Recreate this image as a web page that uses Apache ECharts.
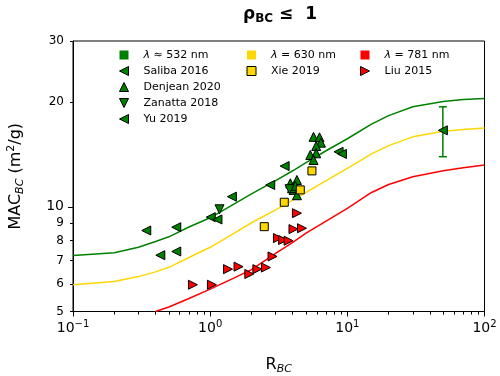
<!DOCTYPE html>
<html>
<head>
<meta charset="utf-8">
<script src="https://cdn.jsdelivr.net/npm/echarts@6/dist/echarts.min.js"></script>
<style>
html, body { margin: 0; padding: 0; background: #fff; }
#chart { width: 500px; height: 376px; }
</style>
</head>
<body>
<div id="chart"></div>
<script>
// model curves
var lineX   = [0.1, 0.2, 0.3, 0.4, 0.5, 0.7, 1, 1.5, 2, 3, 4, 5, 7, 10, 15, 20, 30, 50, 70, 100];
var green   = [7.25, 7.38, 7.65, 7.95, 8.2, 8.75, 9.3, 10.2, 10.9, 11.9, 12.7, 13.4, 14.5, 15.7, 17.3, 18.3, 19.4, 20.1, 20.35, 20.5];
var yellow  = [5.97, 6.1, 6.3, 6.5, 6.7, 7.15, 7.65, 8.4, 9.0, 9.8, 10.45, 11.0, 11.9, 12.9, 14.2, 15.0, 15.9, 16.5, 16.7, 16.85];
var red     = [null, null, null, 5.0, 5.15, 5.45, 5.8, 6.25, 6.6, 7.35, 7.9, 8.4, 9.1, 9.9, 11.0, 11.6, 12.2, 12.7, 12.95, 13.2];

// measurements
var salibaX = [0.342, 0.566, 0.433, 0.566, 1.01, 1.13, 1.44, 2.74, 3.49, 8.63, 9.13];
var salibaY = [8.55, 8.74, 7.26, 7.44, 9.34, 9.2, 10.7, 11.56, 13.1, 14.4, 14.2];
var denjeanX = [5.67, 6.27, 6.42, 5.93, 5.37, 5.93, 5.67, 3.84, 4.29, 4.05, 4.29, 3.95, 4.17];
var denjeanY = [15.9, 15.85, 15.3, 14.96, 14.1, 14.26, 13.64, 11.69, 11.95, 11.19, 10.8, 11.32, 11.5];
var zanattaX = [1.17, 3.79];
var zanattaY = [9.84, 11.24];
var yuX = [49.7];
var yuY = [16.6];
var yuLow = [13.94];
var yuHigh = [19.4];
var xieX = [2.48, 3.47, 4.54, 5.52];
var xieY = [8.77, 10.31, 11.19, 12.69];
var liuX = [0.749, 1.03, 1.35, 1.61, 1.93, 2.21, 2.55, 2.85, 3.12, 3.4, 3.73, 4.05, 4.67, 4.29];
var liuY = [5.97, 5.97, 6.62, 6.73, 6.41, 6.62, 6.69, 7.2, 8.13, 8.03, 7.99, 8.63, 8.68, 9.59];

var xMajor = [0.1, 1, 10, 100];
var xMinor = [0.2, 0.3, 0.4, 0.5, 0.6, 0.7, 0.8, 0.9, 2, 3, 4, 5, 6, 7, 8, 9, 20, 30, 40, 50, 60, 70, 80, 90];
var xExp = {'0.1': '−1', '1': '0', '10': '1', '100': '2'};
var yLabels = [5, 6, 7, 8, 9, 10, 20, 30];
var yMinor = [5, 6, 7, 8, 9, 20, 30];

var FONT = 'DejaVu Sans';
var GREEN = '#008000', GOLD = '#ffd700', RED = '#ff0000';
var SQ = 'path://M0,0H10V10H0Z';
var LEFT = 'path://M0,5L10,0L10,10Z';
var RIGHT = 'path://M10,5L0,0L0,10Z';
var UP = 'path://M5,0L10,10L0,10Z';
var DOWN = 'path://M0,0L10,0L5,10Z';

function pairs(xs, ys){
	var out = [];
	for(var i=0; i<xs.length; i++){
		if(ys[i] != null) out.push([xs[i], ys[i]]);
	}
	return out;
}

function lineSeries(name, ys, color){
	return {
		name: name, type: 'line', data: pairs(lineX, ys),
		showSymbol: false, symbol: 'none', smooth: false, z: 2,
		lineStyle: {color: color, width: 1.5}, itemStyle: {color: color}
	};
}

function scatterSeries(name, xs, ys, symbol, color, size){
	return {
		name: name, type: 'scatter', data: pairs(xs, ys),
		symbol: symbol, symbolSize: size, z: 4,
		itemStyle: {color: color, borderColor: '#000', borderWidth: 1, opacity: 1}
	};
}

function renderErr(params, api){
	var x = api.value(0);
	var top = api.coord([x, api.value(2)]);
	var bot = api.coord([x, api.value(1)]);
	var hw = 4;
	var st = {stroke: GREEN, lineWidth: 1.5};
	return {type: 'group', children: [
		{type: 'line', shape: {x1: top[0], y1: top[1], x2: bot[0], y2: bot[1]}, style: st},
		{type: 'line', shape: {x1: top[0]-hw, y1: top[1], x2: top[0]+hw, y2: top[1]}, style: st},
		{type: 'line', shape: {x1: bot[0]-hw, y1: bot[1], x2: bot[0]+hw, y2: bot[1]}, style: st}
	]};
}

var errData = [];
for(var i=0; i<yuX.length; i++) errData.push([yuX[i], yuLow[i], yuHigh[i]]);

var legendText = {
	'λ ≈ 532 nm': '{i|λ} ≈ 532 nm',
	'λ = 630 nm': '{i|λ} = 630 nm',
	'λ = 781 nm': '{i|λ} = 781 nm'
};

function legendBox(left, items){
	return {
		orient: 'vertical', left: left, top: 47, padding: 0,
		itemWidth: 29, itemHeight: 9, itemGap: 0, selectedMode: false,
		data: items,
		formatter: function(name){ return legendText[name] || name; },
		textStyle: {
			fontFamily: FONT, fontSize: 11, color: '#000', lineHeight: 16,
			rich: {i: {fontFamily: FONT, fontSize: 11, fontStyle: 'italic', color: '#000', lineHeight: 16}}
		}
	};
}

function mark(name, icon){
	return {name: name, icon: icon, itemStyle: {borderColor: '#000', borderWidth: 1}};
}
function patch(name){
	return {name: name, icon: SQ, itemStyle: {borderWidth: 0}};
}

var option = {
	animation: false,
	backgroundColor: '#fff',
	title: {
		text: '{r|ρ}{s|BC}{n| ≤  1}',
		left: 275, top: 0, textAlign: 'center',
		textStyle: {
			rich: {
				r: {fontFamily: FONT, fontSize: 17, fontWeight: 'bold', color: '#000', lineHeight: 20},
				s: {fontFamily: FONT, fontSize: 12, fontWeight: 'bold', color: '#000', lineHeight: 13, verticalAlign: 'bottom'},
				n: {fontFamily: FONT, fontSize: 17, fontWeight: 'bold', color: '#000', lineHeight: 20}
			}
		}
	},
	legend: [
		legendBox(119, [patch('λ ≈ 532 nm'), mark('Saliba 2016', LEFT), mark('Denjean 2020', UP), mark('Zanatta 2018', DOWN), mark('Yu 2019', LEFT)]),
		legendBox(246.5, [patch('λ = 630 nm'), mark('Xie 2019', SQ)]),
		legendBox(360, [patch('λ = 781 nm'), mark('Liu 2015', RIGHT)])
	],
	grid: {
		left: 73, top: 41, width: 411.5, height: 270.5, outerBoundsMode: 'none', containLabel: false,
		show: true, borderColor: '#000', borderWidth: 1, backgroundColor: 'transparent'
	},
	xAxis: [{
		type: 'log', logBase: 10, min: 0.1, max: 100,
		name: '{a|R}{s|BC}', nameLocation: 'middle', nameGap: 43,
		nameTextStyle: {rich: {
			a: {fontFamily: FONT, fontSize: 16, color: '#000', lineHeight: 20},
			s: {fontFamily: FONT, fontSize: 11, fontStyle: 'italic', color: '#000', lineHeight: 13, verticalAlign: 'bottom'}
		}},
		axisLine: {lineStyle: {color: '#000', width: 1}},
		axisTick: {inside: false, length: 3, customValues: xMinor, lineStyle: {color: '#000', width: 1}},
		axisLabel: {
			customValues: xMajor, margin: 8,
			formatter: function(v){ return '{b|10}{s|' + xExp[String(v)] + '}'; },
			rich: {
				b: {fontFamily: FONT, fontSize: 14, color: '#000', lineHeight: 16, padding: [5, 0, 0, 0], verticalAlign: 'bottom'},
				s: {fontFamily: FONT, fontSize: 10, color: '#000', lineHeight: 12, verticalAlign: 'top'}
			}
		},
		splitLine: {show: false}
	}, {
		type: 'log', logBase: 10, min: 0.1, max: 100, position: 'bottom',
		axisLine: {show: false},
		axisTick: {inside: false, length: 5, customValues: xMajor, lineStyle: {color: '#000', width: 1}},
		axisLabel: {show: false},
		splitLine: {show: false}
	}],
	yAxis: [{
		type: 'log', logBase: 10, min: 5, max: 30,
		name: '{a|MAC}{s|BC}{a| (m}{p|2}{a|/g)}', nameLocation: 'middle', nameGap: 47, nameRotate: 90,
		nameTextStyle: {rich: {
			a: {fontFamily: FONT, fontSize: 16, color: '#000', lineHeight: 20},
			s: {fontFamily: FONT, fontSize: 11, fontStyle: 'italic', color: '#000', lineHeight: 13, verticalAlign: 'bottom'},
			p: {fontFamily: FONT, fontSize: 11, color: '#000', lineHeight: 13, verticalAlign: 'top'}
		}},
		axisLine: {lineStyle: {color: '#000', width: 1}},
		axisTick: {inside: false, length: 3, customValues: yMinor, lineStyle: {color: '#000', width: 1}},
		axisLabel: {
			customValues: yLabels, margin: 9,
			formatter: function(v){ return v == 10 ? '{M|10}' : '{m|' + v + '}'; },
			rich: {
				M: {fontFamily: FONT, fontSize: 14, color: '#000'},
				m: {fontFamily: FONT, fontSize: 12, color: '#000'}
			}
		},
		splitLine: {show: false}
	}, {
		type: 'log', logBase: 10, min: 5, max: 30, position: 'left',
		axisLine: {show: false},
		axisTick: {inside: false, length: 5, customValues: [10], lineStyle: {color: '#000', width: 1}},
		axisLabel: {show: false},
		splitLine: {show: false}
	}],
	series: [
		lineSeries('λ ≈ 532 nm', green, GREEN),
		lineSeries('λ = 630 nm', yellow, GOLD),
		lineSeries('λ = 781 nm', red, RED),
		{
			name: 'Yu 2019 err', type: 'custom', data: errData, z: 3,
			encode: {x: 0, y: [1, 2]}, renderItem: renderErr
		},
		scatterSeries('Saliba 2016', salibaX, salibaY, LEFT, GREEN, 9),
		scatterSeries('Denjean 2020', denjeanX, denjeanY, UP, GREEN, 9),
		scatterSeries('Zanatta 2018', zanattaX, zanattaY, DOWN, GREEN, 9),
		scatterSeries('Yu 2019', yuX, yuY, LEFT, GREEN, 9),
		scatterSeries('Xie 2019', xieX, xieY, SQ, GOLD, 8),
		scatterSeries('Liu 2015', liuX, liuY, RIGHT, RED, 9)
	]
};

var myChart = echarts.init(document.getElementById('chart'));
myChart.setOption(option);
</script>
</body>
</html>
